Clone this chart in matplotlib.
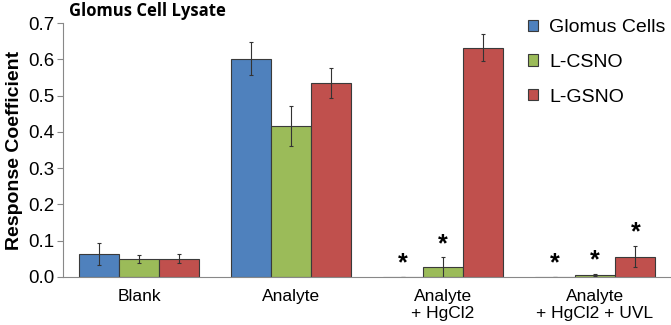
import numpy as np
import matplotlib.pyplot as plt

plt.rcParams['font.family'] = ['Liberation Sans', 'DejaVu Sans']

categories = ["Blank", "Analyte", "Analyte\n+ HgCl2", "Analyte\n+ HgCl2 + UVL"]
series = ["Glomus Cells", "L-CSNO", "L-GSNO"]
glomus = [0.063, 0.602, 0.001, 0.001]
glomus_err = [0.030, 0.045, 0.0, 0.0]
csno = [0.050, 0.415, 0.028, 0.006]
csno_err = [0.011, 0.055, 0.027, 0.003]
gsno = [0.050, 0.535, 0.632, 0.056]
gsno_err = [0.013, 0.042, 0.037, 0.030]
# significance marks: (category, series index)
stars = [(2, 0), (2, 1), (3, 0), (3, 1), (3, 2)]

colors = ["#4F81BD", "#9BBB59", "#C0504D"]

fig = plt.figure(figsize=(6.71, 3.25), dpi=100)
ax = fig.add_axes([0.094, 0.148, 0.906, 0.781])

x = np.arange(len(categories))
w = 0.265
vals = [glomus, csno, gsno]
errs = [glomus_err, csno_err, gsno_err]
for i in range(3):
    ax.bar(x + (i - 1) * w, vals[i], w, color=colors[i], edgecolor="#3a3a3a",
           linewidth=0.8, label=series[i],
           yerr=errs[i], error_kw=dict(ecolor="#333333", elinewidth=0.8, capsize=1.5, capthick=0.8))

for c, s in stars:
    top = vals[s][c] + errs[s][c]
    ax.text(c + (s - 1) * w, top + 0.003, "*", ha="center", va="bottom",
            fontsize=18, fontweight="bold")

ax.set_xlim(-0.5, 3.5)
ax.set_ylim(0, 0.7)
ax.set_yticks(np.arange(0, 0.71, 0.1))
ax.set_yticklabels(["%.1f" % v for v in np.arange(0, 0.71, 0.1)], fontsize=13.5)
ax.set_xticks(x)
ax.set_xticklabels(categories, fontsize=12.5, linespacing=1.1)
ax.tick_params(axis="x", length=0, pad=9)
ax.tick_params(axis="y", length=4, color="#888888", direction="out", pad=2)
for sp in ["top", "right"]:
    ax.spines[sp].set_visible(False)
for sp in ["left", "bottom"]:
    ax.spines[sp].set_color("#888888")

ax.set_ylabel("Response Coefficient", fontsize=14, fontweight="bold", labelpad=4)
fig.text(0.103, 0.967, "Glomus Cell Lysate", fontsize=12, fontweight="bold",
         ha="left", va="center", family="Open Sans")

ax.legend(loc="upper right", bbox_to_anchor=(1.02, 1.085), frameon=False, fontsize=14,
          handlelength=0.5, handleheight=0.5, labelspacing=0.92, handletextpad=0.6)

fig.savefig("out.png", dpi=100)
